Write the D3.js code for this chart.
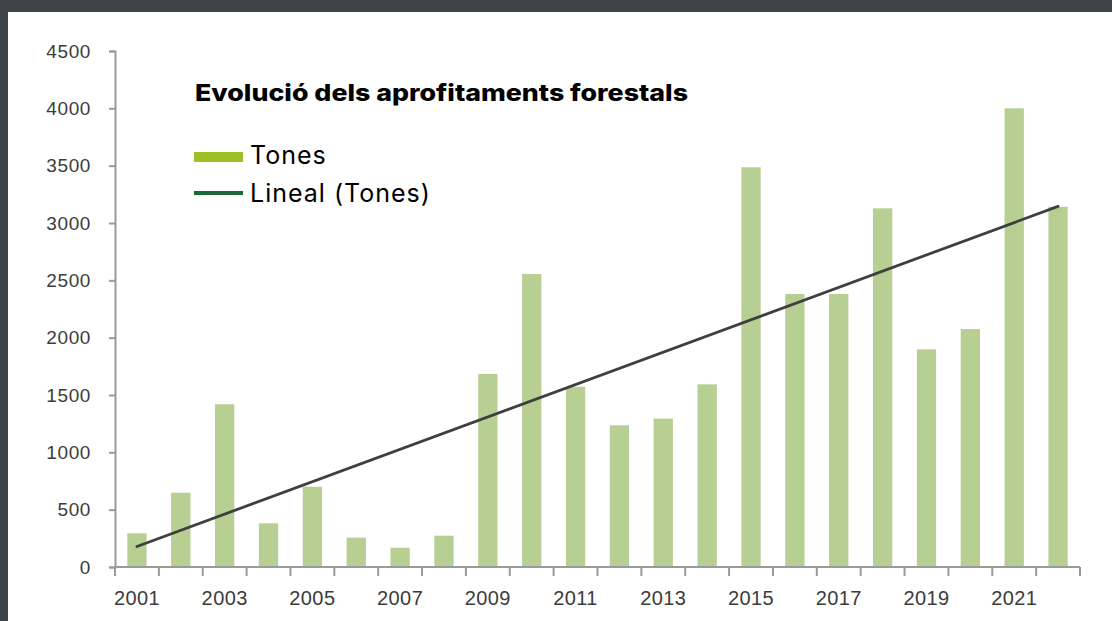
<!DOCTYPE html>
<html>
<head>
<meta charset="utf-8">
<script src="https://cdn.jsdelivr.net/npm/d3@7"></script>
<style>
  html, body { margin: 0; padding: 0; background: #404446; }
  svg { display: block; }
</style>
</head>
<body>
<svg class="chart"></svg>
<script>
const years = ['2001','2002','2003','2004','2005','2006','2007','2008','2009','2010','2011',
  '2012','2013','2014','2015','2016','2017','2018','2019','2020','2021','2022']
const tones = [294,648,1419,381,700,256,168,273,1683,2555,1572,
  1236,1294,1593,3486,2381,2381,3128,1898,2075,4000,3142]
const yTicks = [0,500,1000,1500,2000,2500,3000,3500,4000,4500]
const labelYears = ['2001','2003','2005','2007','2009','2011','2013','2015','2017','2019','2021']
const titleText = 'Evolució dels aprofitaments forestals'
const legendItems = ['Tones', 'Lineal (Tones)']

const WIDTH = 1112
const HEIGHT = 621

const svg = d3.select('svg.chart')
  .attr('width', WIDTH)
  .attr('height', HEIGHT)

// dark frame + white panel
svg.append('rect')
  .attr('width', WIDTH).attr('height', HEIGHT)
  .attr('fill', '#404446')
svg.append('rect')
  .attr('x', 8).attr('y', 12)
  .attr('width', WIDTH - 8).attr('height', HEIGHT - 12)
  .attr('fill', '#ffffff')

// plot area
const plotLeft = 115, plotRight = 1080, plotTop = 51, plotBottom = 567

const xScale = d3.scaleBand()
  .domain(years)
  .range([plotLeft, plotRight])
  .paddingInner(0.56)
  .paddingOuter(0.28)

const xBound = d3.scaleLinear()
  .domain([0, years.length])
  .range([plotLeft, plotRight])

const yScale = d3.scaleLinear()
  .domain([0, 4500])
  .range([plotBottom, plotTop])

// bars
svg.append('g').attr('class', 'bars')
  .selectAll('rect')
  .data(tones)
  .join('rect')
  .attr('x', (d, i) => xScale(years[i]))
  .attr('width', xScale.bandwidth())
  .attr('y', d => yScale(d))
  .attr('height', d => yScale(0) - yScale(d))
  .attr('fill', '#b7cf93')

// y axis
const yAxis = svg.append('g')
  .attr('transform', `translate(${plotLeft},0)`)
  .call(d3.axisLeft(yScale).tickValues(yTicks).tickSize(6).tickPadding(18).tickFormat(d3.format('d')))
yAxis.select('.domain').attr('stroke', '#9a9a9a').attr('stroke-width', 2)
yAxis.selectAll('.tick line').attr('stroke', '#9a9a9a').attr('stroke-width', 2)
yAxis.selectAll('.tick text')
  .attr('fill', '#3c3c3c')
  .style('font-family', 'Liberation Sans, Arial, sans-serif')
  .style('font-size', '19px')
  .style('letter-spacing', '0.6px')

// x axis: ticks on category boundaries, labels every other year
const xAxis = svg.append('g')
  .attr('transform', `translate(0,${plotBottom})`)
xAxis.append('line')
  .attr('x1', plotLeft).attr('x2', plotRight)
  .attr('stroke', '#9a9a9a').attr('stroke-width', 2)
xAxis.selectAll('line.tick')
  .data(d3.range(years.length + 1))
  .join('line')
  .attr('class', 'tick')
  .attr('x1', d => xBound(d)).attr('x2', d => xBound(d))
  .attr('y1', 0).attr('y2', 9)
  .attr('stroke', '#9a9a9a').attr('stroke-width', 2)
xAxis.selectAll('text')
  .data(labelYears)
  .join('text')
  .attr('x', d => xScale(d) + xScale.bandwidth() / 2)
  .attr('y', 38)
  .attr('text-anchor', 'middle')
  .attr('fill', '#3c3c3c')
  .style('font-family', 'Liberation Sans, Arial, sans-serif')
  .style('font-size', '20px')
  .style('letter-spacing', '0.4px')
  .text(d => d)

// linear trend (least squares over the bars)
const xs = d3.range(1, tones.length + 1)
const xMean = d3.mean(xs), yMean = d3.mean(tones)
const slope = d3.sum(xs, (x, i) => (x - xMean) * (tones[i] - yMean)) / d3.sum(xs, x => (x - xMean) ** 2)
const intercept = yMean - slope * xMean
const trend = [xs[0], xs[xs.length - 1]].map(x => ({x, y: intercept + slope * x}))

svg.append('path')
  .datum(trend)
  .attr('fill', 'none')
  .attr('stroke', '#3f3f3f')
  .attr('stroke-width', 2.8)
  .attr('stroke-linecap', 'round')
  .attr('d', d3.line()
    .x(d => xScale(years[d.x - 1]) + xScale.bandwidth() / 2)
    .y(d => yScale(d.y)))

// title
svg.append('text')
  .attr('x', 195).attr('y', 101)
  .attr('fill', '#000')
  .style('font-family', 'Inter, Lato, sans-serif')
  .style('font-weight', 800)
  .style('font-size', '23px')
  .attr('textLength', 493)
  .attr('lengthAdjust', 'spacingAndGlyphs')
  .text(titleText)

// legend
const legend = svg.append('g')
legend.append('rect')
  .attr('x', 194).attr('y', 152)
  .attr('width', 49).attr('height', 10)
  .attr('fill', '#9cc026')
legend.append('line')
  .attr('x1', 194).attr('x2', 243)
  .attr('y1', 193).attr('y2', 193)
  .attr('stroke', '#1b6a36').attr('stroke-width', 4)
legend.selectAll('text')
  .data(legendItems)
  .join('text')
  .attr('x', 250)
  .attr('y', (d, i) => 164 + i * 38)
  .attr('fill', '#000')
  .style('font-family', 'Inter, Lato, sans-serif')
  .style('font-size', '25px')
  .style('letter-spacing', '1px')
  .text(d => d)
</script>
</body>
</html>
